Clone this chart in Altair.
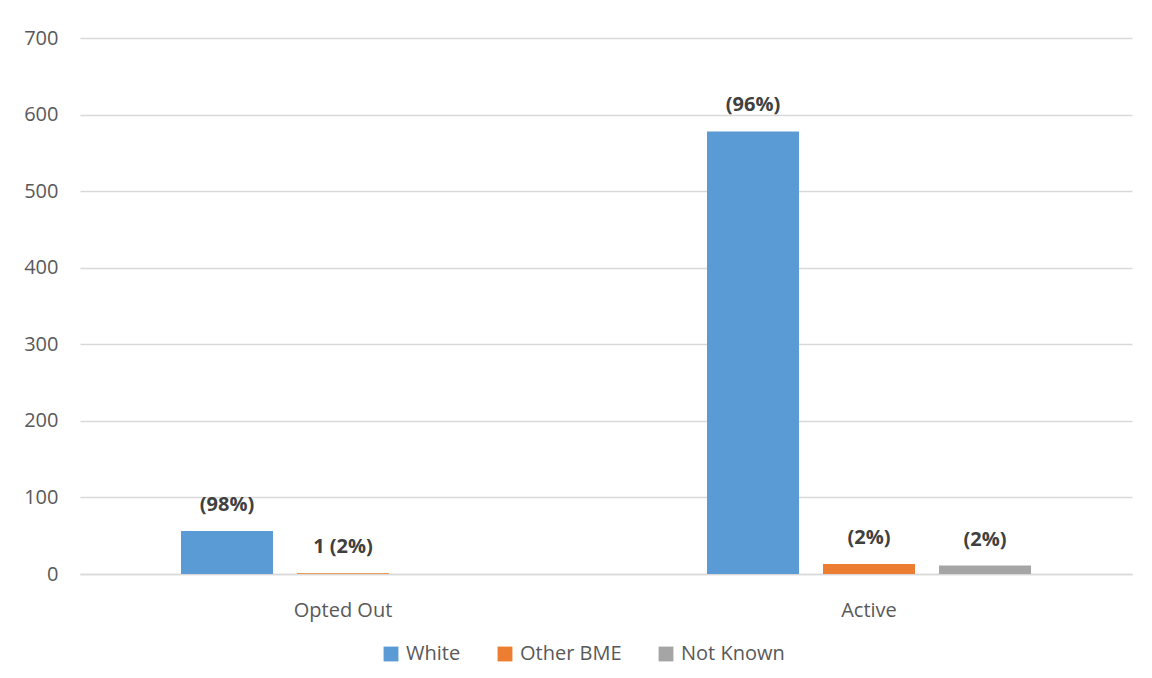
import altair as alt
import pandas as pd

categories = ["Opted Out", "Opted Out", "Opted Out", "Active", "Active", "Active"]
series = ["White", "Other BME", "Not Known", "White", "Other BME", "Not Known"]
values = [56, 1, 0, 578, 13, 11]
labels = ["(98%)", "1 (2%)", "", "(96%)", "(2%)", "(2%)"]

cat_order = ["Opted Out", "Active"]
series_order = ["White", "Other BME", "Not Known"]
colors = ["#5B9BD5", "#ED7D31", "#A5A5A5"]

df = pd.DataFrame({"cat": categories, "series": series, "value": values, "label": labels})

FONT = "Open Sans"
FS = 20

x = alt.X("cat:N", sort=cat_order, title=None,
          scale=alt.Scale(paddingInner=0.384, paddingOuter=0.192),
          axis=alt.Axis(labelAngle=0, labelFontSize=FS, labelColor="#595959", labelFont=FONT,
                        ticks=False, domain=True, domainColor="#D9D9D9", domainWidth=1.5,
                        labelPadding=36, labelBaseline="middle"))
xo = alt.XOffset("series:N", sort=series_order,
                 scale=alt.Scale(paddingInner=0.207, paddingOuter=0))

bars = alt.Chart(df).mark_bar().encode(
    x=x, xOffset=xo,
    y=alt.Y("value:Q", title=None,
            scale=alt.Scale(domain=[0, 700], nice=False),
            axis=alt.Axis(values=[0, 100, 200, 300, 400, 500, 600, 700], labelFontSize=FS,
                          labelColor="#595959", labelFont=FONT, ticks=False, domain=False,
                          gridColor="#D9D9D9", gridWidth=1.5, labelPadding=22)),
    color=alt.Color("series:N", sort=series_order,
                    scale=alt.Scale(domain=series_order, range=colors),
                    legend=alt.Legend(title=None, orient="none", direction="horizontal",
                                      legendX=301, legendY=606, symbolType="square",
                                      symbolSize=220, symbolStrokeWidth=0, labelFontSize=FS,
                                      labelColor="#595959", labelFont=FONT, columnPadding=34,
                                      symbolOffset=0, labelOffset=5)),
)

text = alt.Chart(df).mark_text(fontSize=FS, fontWeight="bold", color="#404040", font=FONT,
                               baseline="middle", dy=-26).encode(
    x=alt.X("cat:N", sort=cat_order), xOffset=alt.XOffset("series:N", sort=series_order),
    y="value:Q",
    text="label:N",
)

chart = alt.layer(bars, text).properties(
    width=1052, height=536,
    autosize=alt.AutoSizeParams(type="none"),
    padding={"left": 72, "top": 30, "right": 12, "bottom": 96},
).configure(background="white").configure_view(stroke=None)

chart.save("out.html", embed_options={"renderer": "svg", "actions": False})
